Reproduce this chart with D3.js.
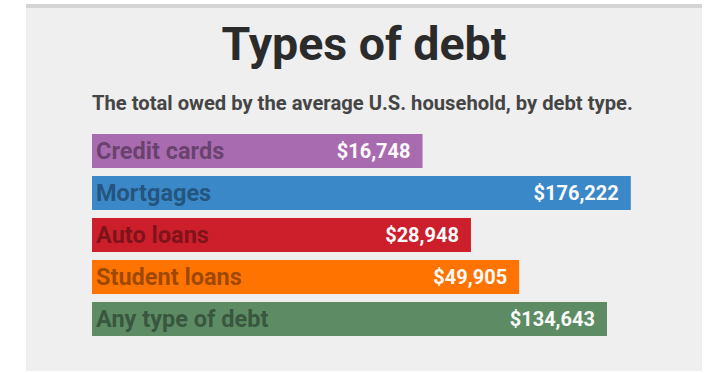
<!DOCTYPE html>
<html>
<head>
<meta charset="utf-8">
<script src="https://cdn.jsdelivr.net/npm/d3@7"></script>
<style>
  html, body { margin: 0; padding: 0; background: #ffffff; }
  svg { display: block; }
  text { font-family: Roboto, "Noto Sans", sans-serif; font-weight: 700; }
</style>
</head>
<body>
<svg id="chart" width="708" height="373"></svg>
<script>
// Debt categories, average amount owed per household, and bar colours
const categories = ["Credit cards", "Mortgages", "Auto loans", "Student loans", "Any type of debt"];
const amounts = [16748, 176222, 28948, 49905, 134643];
const colors = ["#a96bb0", "#3a88c8", "#cc1f2b", "#ff7400", "#5c8b64"];

const titleText = "Types of debt";
const subtitleText = "The total owed by the average U.S. household, by debt type.";

const svg = d3.select("#chart");

// Card background with a darker strip along its top edge
svg.append("rect").attr("x", 26).attr("y", 4).attr("width", 676).attr("height", 367).attr("fill", "#efefef");
svg.append("rect").attr("x", 26).attr("y", 4).attr("width", 676).attr("height", 4).attr("fill", "#d4d4d4");

svg.append("text")
  .attr("x", 364).attr("y", 60)
  .attr("text-anchor", "middle")
  .attr("font-size", 46.5)
  .attr("fill", "#2b2b2b")
  .text(titleText);

svg.append("text")
  .attr("x", 92).attr("y", 110)
  .attr("font-size", 20.2)
  .attr("fill", "#454545")
  .text(subtitleText);

const data = categories.map((c, i) => ({ category: c, amount: amounts[i], color: colors[i] }));

// Amounts span an order of magnitude, so bar length follows a log scale
const x = d3.scaleLog().domain([400, 200000]).range([92, 642]);
const y = d3.scaleBand().domain(categories).range([134, 336]).paddingInner(0.19).paddingOuter(0);

const fmt = d3.format("$,");

const rows = svg.append("g").selectAll("g")
  .data(data)
  .join("g")
  .attr("transform", d => `translate(0,${y(d.category)})`);

rows.append("rect")
  .attr("x", x.range()[0])
  .attr("y", 0)
  .attr("width", d => x(d.amount) - x.range()[0])
  .attr("height", y.bandwidth())
  .attr("fill", d => d.color);

rows.append("text")
  .attr("x", x.range()[0] + 4)
  .attr("y", y.bandwidth() / 2)
  .attr("dy", "0.35em")
  .attr("font-size", 23.5)
  .attr("fill", "#000")
  .attr("fill-opacity", 0.4)
  .text(d => d.category);

rows.append("text")
  .attr("x", d => x(d.amount) - 12)
  .attr("y", y.bandwidth() / 2)
  .attr("dy", "0.36em")
  .attr("text-anchor", "end")
  .attr("font-size", 20)
  .attr("fill", "#fafafa")
  .text(d => fmt(d.amount));
</script>
</body>
</html>
